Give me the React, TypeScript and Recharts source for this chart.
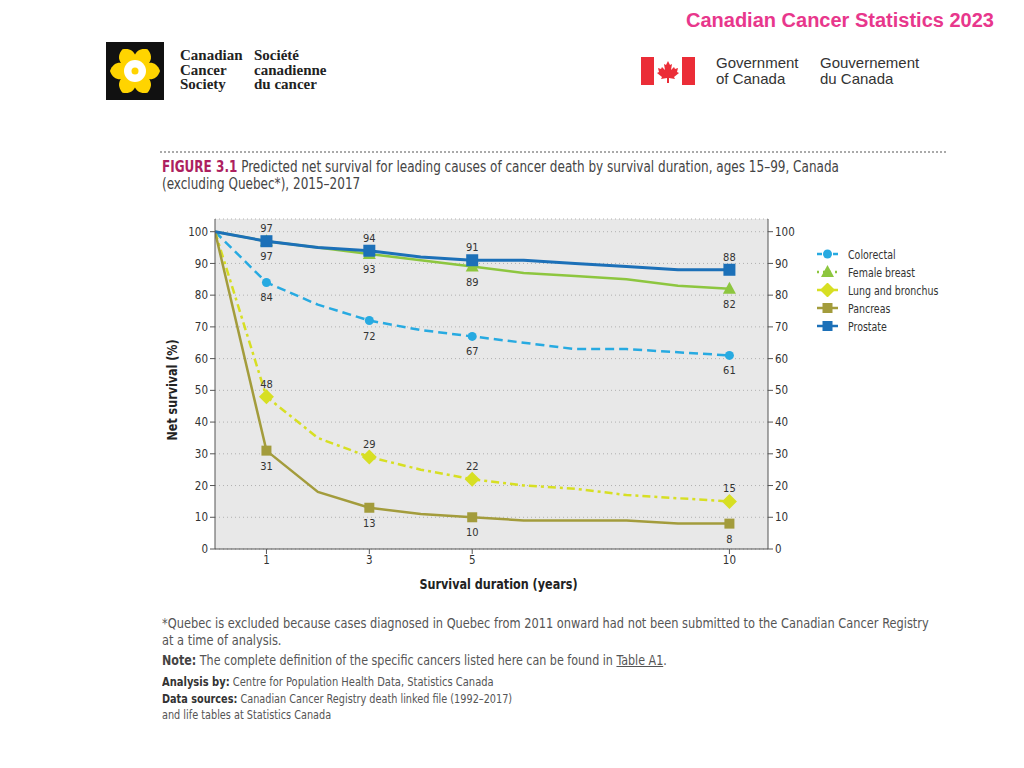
import React from 'react'
import { LineChart, Line, XAxis, YAxis, CartesianGrid, Label } from 'recharts'

// survival duration in years, values = predicted net survival (%)
const years = [0, 1, 2, 3, 4, 5, 6, 7, 8, 9, 10]
const markerYears = [1, 3, 5, 10]
const colorectal = [100, 84, 77, 72, 69, 67, 65, 63, 63, 62, 61]
const femaleBreast = [100, 97, 95, 93, 91, 89, 87, 86, 85, 83, 82]
const lungBronchus = [100, 48, 35, 29, 25, 22, 20, 19, 17, 16, 15]
const pancreas = [100, 31, 18, 13, 11, 10, 9, 9, 9, 8, 8]
const prostate = [100, 97, 95, 94, 92, 91, 91, 90, 89, 88, 88]
const yTicks = [0, 10, 20, 30, 40, 50, 60, 70, 80, 90, 100]
const xTicks = [1, 3, 5, 10]

const narrow = "'DejaVu Sans Condensed', 'Open Sans', sans-serif"
const textColor = '#333'

type Shape = 'circle' | 'triangle' | 'diamond' | 'square' | 'bigSquare'

interface SeriesDef {
  key: string
  name: string
  color: string
  dash?: string
  legendDash?: string
  width: number
  shape: Shape
  above: boolean
}

const series: SeriesDef[] = [
  { key: 'colorectal', name: 'Colorectal', color: '#27aae1', dash: '9 5', legendDash: '5 3', width: 2.5, shape: 'circle', above: false },
  { key: 'femaleBreast', name: 'Female breast', color: '#8dc63f', legendDash: '2 4', width: 2.5, shape: 'triangle', above: false },
  { key: 'lungBronchus', name: 'Lung and bronchus', color: '#d7df23', dash: '8 4 3 4', legendDash: '5 3', width: 2.5, shape: 'diamond', above: true },
  { key: 'pancreas', name: 'Pancreas', color: '#a39c3c', width: 2.5, shape: 'square', above: false },
  { key: 'prostate', name: 'Prostate', color: '#1c70b8', width: 3, shape: 'bigSquare', above: true },
]

const rows = years.map((year, i) => ({
  year,
  colorectal: colorectal[i],
  femaleBreast: femaleBreast[i],
  lungBronchus: lungBronchus[i],
  pancreas: pancreas[i],
  prostate: prostate[i],
}))

function Marker({ shape, cx, cy, color }: { shape: Shape; cx: number; cy: number; color: string }) {
  if (shape === 'circle') return <circle cx={cx} cy={cy} r={4.5} fill={color} />
  if (shape === 'triangle')
    return <polygon points={`${cx},${cy - 7} ${cx + 6.5},${cy + 5} ${cx - 6.5},${cy + 5}`} fill={color} />
  if (shape === 'diamond')
    return <polygon points={`${cx},${cy - 7.5} ${cx + 7.5},${cy} ${cx},${cy + 7.5} ${cx - 7.5},${cy}`} fill={color} />
  const s = shape === 'bigSquare' ? 12 : 10
  return <rect x={cx - s / 2} y={cy - s / 2} width={s} height={s} fill={color} />
}

const makeDot = (s: SeriesDef) => (props: any) => {
  const { cx, cy, index, value } = props
  const key = `${s.key}-dot-${index}`
  if (cx == null || cy == null || !markerYears.includes(years[index])) return <g key={key} />
  return (
    <g key={key}>
      <Marker shape={s.shape} cx={cx} cy={cy} color={s.color} />
      <text
        x={cx}
        y={s.above ? cy - 9 : cy + 19}
        textAnchor="middle"
        fontSize={11}
        fontFamily={narrow}
        fill={textColor}
      >
        {value}
      </text>
    </g>
  )
}

function Daffodil() {
  const petals = [0, 60, 120, 180, 240, 300]
  return (
    <svg width={58} height={58} style={{ position: 'absolute', left: 106, top: 42 }}>
      <rect width={58} height={58} fill="#111" />
      {petals.map((a) => (
        <path
          key={a}
          d="M29 29 C19 20 17 8 29 4 C41 8 39 20 29 29 Z"
          fill="#ffd400"
          transform={`rotate(${a + 30} 29 29)`}
        />
      ))}
      <circle cx={29} cy={29} r={11} fill="#fff" />
      <circle cx={29} cy={29} r={3.5} fill="#ffd400" />
    </svg>
  )
}

function CanadaFlag() {
  return (
    <svg width={54} height={28} style={{ position: 'absolute', left: 641, top: 57 }}>
      <rect width={54} height={28} fill="#fff" />
      <rect width={13} height={28} fill="#eb2d37" />
      <rect x={41} width={13} height={28} fill="#eb2d37" />
      <polygon
        points="27,4 29,8 31,7 30,13 33,10 34,12 37,11 36,15 38,16 33,20 34,22 28,21 28,26 26,26 26,21 20,22 21,20 16,16 18,15 17,11 20,12 21,10 24,13 23,7 25,8"
        fill="#eb2d37"
      />
    </svg>
  )
}

function LegendSwatch({ s }: { s: SeriesDef }) {
  return (
    <svg width={24} height={14} style={{ display: 'block' }}>
      <line x1={1} y1={7} x2={22} y2={7} stroke={s.color} strokeWidth={2.5} strokeDasharray={s.legendDash} />
      <Marker
        shape={s.shape === 'bigSquare' ? 'square' : s.shape}
        cx={11.5}
        cy={7}
        color={s.color}
      />
    </svg>
  )
}

const abs = (left: number, top: number, sx = 1): React.CSSProperties => ({
  position: 'absolute',
  left,
  top,
  whiteSpace: 'nowrap',
  transform: sx === 1 ? undefined : `scaleX(${sx})`,
  transformOrigin: 'left top',
})

export default function App() {
  return (
    <div style={{ position: 'absolute', left: 0, top: 0, width: 1024, height: 768, background: '#fff', overflow: 'hidden', fontFamily: narrow, color: '#444' }}>
      {/* header */}
      <div style={{ ...abs(686, 7), fontFamily: "'Liberation Sans', sans-serif", fontWeight: 700, fontSize: 20, color: '#e8378c', lineHeight: '26px' }}>
        Canadian Cancer Statistics 2023
      </div>
      <Daffodil />
      <div style={{ ...abs(180, 48), fontFamily: "'Liberation Serif', serif", fontWeight: 700, fontSize: 15, lineHeight: '14.5px', color: '#222' }}>
        Canadian<br />Cancer<br />Society
      </div>
      <div style={{ ...abs(254, 48), fontFamily: "'Liberation Serif', serif", fontWeight: 700, fontSize: 15, lineHeight: '14.5px', color: '#222' }}>
        Société<br />canadienne<br />du cancer
      </div>
      <CanadaFlag />
      <div style={{ ...abs(716, 55), fontFamily: "'Liberation Sans', sans-serif", fontSize: 15, lineHeight: '16px', color: '#333' }}>
        Government<br />of Canada
      </div>
      <div style={{ ...abs(820, 55), fontFamily: "'Liberation Sans', sans-serif", fontSize: 15, lineHeight: '16px', color: '#333' }}>
        Gouvernement<br />du Canada
      </div>

      {/* figure title */}
      <div style={{ position: 'absolute', left: 160, top: 151, width: 786, borderTop: '2px dotted #aaa' }} />
      <div style={{ ...abs(162, 159, 0.892), fontSize: 15, lineHeight: '17px', color: '#444' }}>
        <span style={{ color: '#ad1f5f', fontWeight: 700 }}>FIGURE 3.1</span> Predicted net survival for leading causes of cancer death by survival duration, ages 15–99, Canada
        <br />
        (excluding Quebec*), 2015–2017
      </div>

      {/* chart */}
      <div style={{ position: 'absolute', left: 150, top: 200 }}>
        <LineChart width={810} height={400} data={rows} margin={{ top: 19, right: 152, bottom: 6, left: 0 }}>
          <CartesianGrid yAxisId="left" vertical={false} fill="#e8e8e8" stroke="#b0b0b0" strokeDasharray="1 3" />
          <XAxis
            dataKey="year"
            type="number"
            domain={[0, 10.75]}
            ticks={xTicks}
            allowDataOverflow
            height={45}
            stroke="#555"
            tick={{ fill: textColor, fontSize: 11.5, fontFamily: narrow }}
            tickSize={5}
          >
            <Label
              content={({ viewBox }: any) => (
                <text
                  x={viewBox.x + viewBox.width / 2 + 7}
                  y={viewBox.y + 40}
                  textAnchor="middle"
                  fontSize={14.5}
                  fontWeight={700}
                  fontFamily={narrow}
                  fill="#222"
                  textLength={158}
                  lengthAdjust="spacingAndGlyphs"
                >
                  Survival duration (years)
                </text>
              )}
            />
          </XAxis>
          <YAxis
            yAxisId="left"
            domain={[0, 104]}
            ticks={yTicks}
            allowDataOverflow
            width={65}
            stroke="#555"
            tick={{ fill: textColor, fontSize: 11.5, fontFamily: narrow }}
            tickSize={5}
          >
            <Label
              content={({ viewBox }: any) => {
                const x = viewBox.x + 27
                const y = viewBox.y + viewBox.height / 2 + 6
                return (
                  <text
                    x={x}
                    y={y}
                    transform={`rotate(-90 ${x} ${y})`}
                    textAnchor="middle"
                    fontSize={14.5}
                    fontWeight={700}
                    fontFamily={narrow}
                    fill="#222"
                    textLength={101}
                    lengthAdjust="spacingAndGlyphs"
                  >
                    Net survival (%)
                  </text>
                )
              }}
            />
          </YAxis>
          <YAxis
            yAxisId="right"
            orientation="right"
            domain={[0, 104]}
            ticks={yTicks}
            allowDataOverflow
            width={40}
            stroke="#555"
            tick={{ fill: textColor, fontSize: 11.5, fontFamily: narrow }}
            tickSize={5}
          />
          {series.map((s) => (
            <Line
              key={s.key}
              yAxisId="left"
              type="linear"
              dataKey={s.key}
              name={s.name}
              stroke={s.color}
              strokeWidth={s.width}
              strokeDasharray={s.dash}
              dot={makeDot(s)}
              activeDot={false}
              isAnimationActive={false}
            />
          ))}
        </LineChart>
      </div>

      {/* legend */}
      <div style={{ position: 'absolute', left: 816, top: 245 }}>
        {series.map((s) => (
          <div key={s.key} style={{ display: 'flex', alignItems: 'center', height: 18, fontSize: 12.5, color: textColor }}>
            <LegendSwatch s={s} />
            <span style={{ marginLeft: 8, display: 'inline-block', whiteSpace: 'nowrap', transform: 'scaleX(0.84)', transformOrigin: 'left center' }}>{s.name}</span>
          </div>
        ))}
      </div>

      {/* notes */}
      <div style={{ ...abs(162, 615, 0.874), fontSize: 14.5, lineHeight: '17px', color: '#555' }}>
        *Quebec is excluded because cases diagnosed in Quebec from 2011 onward had not been submitted to the Canadian Cancer Registry
        <br />
        at a time of analysis.
      </div>
      <div style={{ ...abs(162, 652, 0.853), fontSize: 14.5, lineHeight: '17px', color: '#555' }}>
        <b style={{ color: '#444' }}>Note:</b> The complete definition of the specific cancers listed here can be found in{' '}
        <span style={{ textDecoration: 'underline' }}>Table A1</span>.
      </div>
      <div style={{ ...abs(162, 674, 0.85), fontSize: 13, lineHeight: '16px', color: '#555' }}>
        <b style={{ color: '#333' }}>Analysis by:</b> Centre for Population Health Data, Statistics Canada
      </div>
      <div style={{ ...abs(162, 691, 0.83), fontSize: 13, lineHeight: '15.5px', color: '#555' }}>
        <b style={{ color: '#333' }}>Data sources:</b> Canadian Cancer Registry death linked file (1992–2017)
        <br />
        and life tables at Statistics Canada
      </div>
    </div>
  )
}
